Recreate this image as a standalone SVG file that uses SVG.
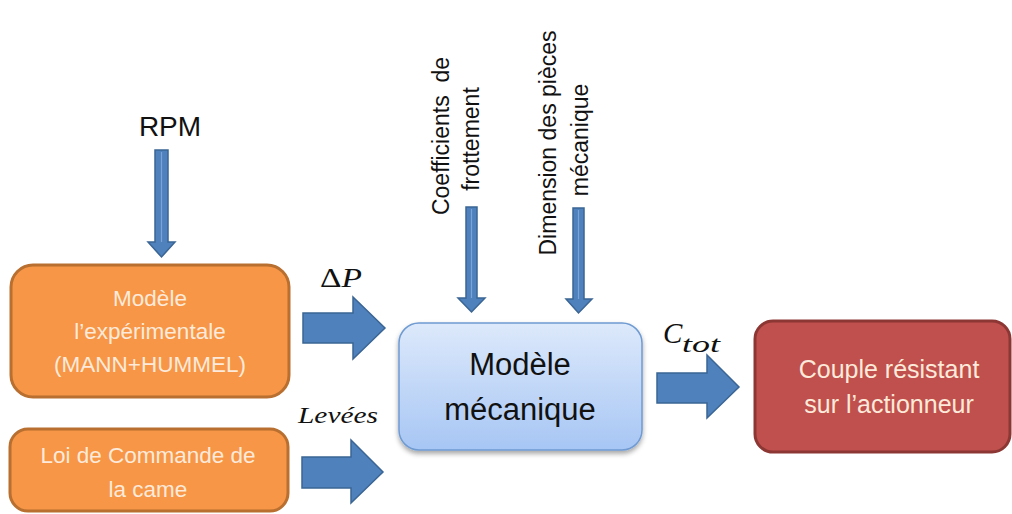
<svg xmlns="http://www.w3.org/2000/svg" width="1012" height="514" viewBox="0 0 1012 514">
  <defs>
    <linearGradient id="blueGrad" x1="0" y1="0" x2="0" y2="1">
      <stop offset="0" stop-color="#dde9fb"/>
      <stop offset="1" stop-color="#a7c6f4"/>
    </linearGradient>
    <filter id="shadow" x="-10%" y="-10%" width="120%" height="130%">
      <feDropShadow dx="0" dy="3" stdDeviation="2.5" flood-color="#000" flood-opacity="0.35"/>
    </filter>
    <style>
      .orange { fill: #f79646; stroke: #b86f30; stroke-width: 3; }
      .red { fill: #c0504d; stroke: #8c3734; stroke-width: 3; }
      .blue { fill: url(#blueGrad); stroke: #6f9bd2; stroke-width: 1.5; }
      .arrow { fill: #4f81bd; stroke: #3a6594; stroke-width: 1.5; stroke-linejoin: miter; }
      .hl { stroke: #7aa3d6; stroke-width: 1.2; fill: none; }
      .wtxt { font-family: "Liberation Sans", Arial, sans-serif; fill: #fdeada; text-anchor: middle; }
      .btxt { font-family: "Liberation Sans", Arial, sans-serif; fill: #111; text-anchor: middle; }
      .math { font-family: "Liberation Serif", "Times New Roman", serif; fill: #111; }
    </style>
  </defs>

  <rect width="1012" height="514" fill="#ffffff"/>

  <g id="rpm">
    <text class="btxt" x="170" y="136" font-size="28">RPM</text>
  </g>

  <g id="coefficients">
    <text class="btxt" font-size="23" xml:space="preserve" transform="translate(449,136) rotate(-90)">Coefficients  de</text>
    <text class="btxt" font-size="23" transform="translate(479,139) rotate(-90)">frottement</text>
  </g>

  <g id="dimension">
    <text class="btxt" font-size="23" transform="translate(556,143) rotate(-90)">Dimension des pièces</text>
    <text class="btxt" font-size="23" transform="translate(588,140) rotate(-90)">mécanique</text>
  </g>

  <g id="modele-experimental">
    <rect class="orange" x="11" y="265" width="278" height="132" rx="22" ry="22"/>
    <text class="wtxt" x="150" y="306" font-size="22.5">Modèle</text>
    <text class="wtxt" x="150" y="339" font-size="22.5">l’expérimentale</text>
    <text class="wtxt" x="150" y="372" font-size="22.5">(MANN+HUMMEL)</text>
  </g>

  <g id="loi-commande">
    <rect class="orange" x="10" y="429" width="278" height="82" rx="18" ry="18"/>
    <text class="wtxt" x="148" y="463" font-size="22.5">Loi de Commande de</text>
    <text class="wtxt" x="148" y="497" font-size="22.5">la came</text>
  </g>

  <g id="modele-mecanique">
    <rect class="blue" x="399" y="323" width="243" height="127" rx="20" ry="20" filter="url(#shadow)"/>
    <text class="btxt" x="520" y="375" font-size="31">Modèle</text>
    <text class="btxt" x="520" y="420" font-size="31">mécanique</text>
  </g>

  <g id="couple-resistant">
    <rect class="red" x="755" y="321" width="255" height="131" rx="18" ry="18"/>
    <text class="wtxt" x="889" y="378" font-size="25">Couple résistant</text>
    <text class="wtxt" x="889" y="413" font-size="25">sur l’actionneur</text>
  </g>

  <g id="connectors">
    <path class="arrow" d="M155,150 H168 V242 H175 L161.5,257 L148,242 H155 Z"/>
    <line class="hl" x1="161.5" y1="152" x2="161.5" y2="242"/>
    <path class="arrow" d="M466,207 H477 V298 H485 L471.5,312 L458,298 H466 Z"/>
    <line class="hl" x1="471.5" y1="209" x2="471.5" y2="298"/>
    <path class="arrow" d="M573,208 H584 V299 H592 L578.5,313 L566,299 H573 Z"/>
    <line class="hl" x1="578.5" y1="210" x2="578.5" y2="299"/>
    <path class="arrow" d="M303,313 H353 V297 L385,328 L353,359 V343 H303 Z"/>
    <path class="arrow" d="M302,457 H351 V440 L383,472 L351,503 V488 H302 Z"/>
    <path class="arrow" d="M657,373 H707 V355 L739,387 L707,418 V403 H657 Z"/>
    <text class="math" x="320" y="287" font-size="28" textLength="42" lengthAdjust="spacingAndGlyphs">Δ<tspan font-style="italic">P</tspan></text>
    <text class="math" x="298" y="423" font-size="24" font-style="italic" textLength="80" lengthAdjust="spacingAndGlyphs">Levées</text>
    <text class="math" x="663" y="343" font-size="29" font-style="italic">C</text>
    <text class="math" x="682" y="352" font-size="24" font-style="italic" textLength="38" lengthAdjust="spacingAndGlyphs">tot</text>
  </g>
</svg>
